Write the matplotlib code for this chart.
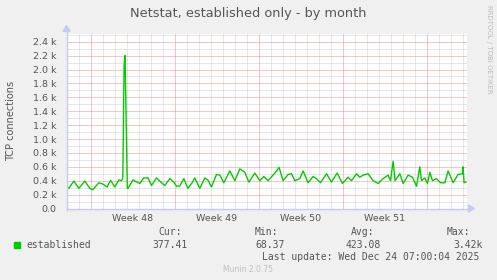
import matplotlib
matplotlib.use("Agg")
import matplotlib.pyplot as plt
from matplotlib.patches import Rectangle, Polygon

# ---- data (days since graph start, TCP connections) ----
days = [0.03, 0.19, 0.61, 1.03, 1.53, 1.94, 2.19, 2.69, 3.05, 3.38, 3.67, 4.03,
        4.36, 4.58, 4.69, 4.80, 4.88, 5.07, 5.13, 5.53, 5.88, 6.11, 6.44, 6.80,
        7.08, 7.50, 7.92, 8.19, 8.61, 8.94, 9.17, 9.44, 9.78, 10.11, 10.47, 10.69,
        11.11, 11.53, 11.78, 12.08, 12.50, 12.78, 13.11, 13.61, 14.03, 14.44, 14.86,
        15.19, 15.28, 15.69, 16.11, 16.44, 16.80, 17.36, 17.72, 18.05, 18.47, 18.75,
        19.03, 19.44, 19.72, 20.13, 20.55, 20.83, 21.17, 21.67, 22.08, 22.55, 23.00,
        23.47, 23.75, 24.17, 24.44, 24.72, 25.13, 25.55, 25.97, 26.38, 26.80, 27.00,
        27.22, 27.38, 27.78, 28.05, 28.47, 28.83, 29.17, 29.44, 29.58, 29.86, 30.08,
        30.28, 30.50, 30.83, 31.17, 31.53, 31.80, 32.22, 32.63, 33.00, 33.05, 33.13,
        33.28]
established = [310, 290, 395, 290, 395, 290, 270, 370, 350, 310, 405, 310,
               410, 400, 430, 2050, 2200, 290, 290, 410, 380, 360, 440, 440,
               330, 440, 370, 330, 430, 380, 320, 325, 430, 290, 370, 440,
               290, 440, 410, 310, 490, 480, 370, 540, 400, 570, 520,
               380, 400, 510, 400, 460, 400, 510, 590, 400, 490, 500,
               400, 430, 540, 370, 460, 430, 370, 500, 380, 510, 360,
               450, 400, 500, 450, 480, 500, 400, 360, 430, 480, 400,
               680, 400, 500, 360, 480, 450, 320, 600, 400, 440, 360,
               520, 400, 430, 370, 370, 540, 370, 490, 500, 600, 370,
               380]

week_labels = ["Week 48", "Week 49", "Week 50", "Week 51"]
week_starts = [2, 9, 16, 23, 30]
y_ticks = [0, 200, 400, 600, 800, 1000, 1200, 1400, 1600, 1800, 2000, 2200, 2400]
y_tick_labels = ["0.0", "0.2 k", "0.4 k", "0.6 k", "0.8 k", "1.0 k", "1.2 k",
                 "1.4 k", "1.6 k", "1.8 k", "2.0 k", "2.2 k", "2.4 k"]
legend_cur, legend_min, legend_avg, legend_max = "377.41", "68.37", "423.08", "3.42k"

# ---- figure ----
W, H = 497, 280
fig = plt.figure(figsize=(W / 100, H / 100), dpi=100, facecolor="#F0F0F0")
L, R, T, B = 66.5, 466.5, 33.5, 208.5
ax = fig.add_axes([L / W, 1 - B / H, (R - L) / W, (B - T) / H])
ax.set_facecolor("white")
XMAX = 33.333
YMAX = 2518
ax.set_xlim(0, XMAX)
ax.set_ylim(0, YMAX)

txt = "#555555"
minor_c = "#D0D0D0"
major_c = "#F28A8A"
dot = (0, (1, 1))
glw = 0.72

for d in range(1, 34):
    if d not in week_starts:
        ax.axvline(d, color=minor_c, lw=glw, ls=dot, zorder=1)
for v in range(100, 2600, 100):
    if v not in y_ticks:
        ax.axhline(v, color=minor_c, lw=glw, ls=dot, zorder=1)
for d in week_starts:
    ax.axvline(d, color=major_c, lw=glw, ls=dot, zorder=2)
for v in y_ticks[1:]:
    ax.axhline(v, color=major_c, lw=glw, ls=dot, zorder=2)

ax.plot(days, established, color="#00CC00", lw=1.0, zorder=5)

for s in ax.spines.values():
    s.set_visible(False)

ax.set_yticks(y_ticks)
ax.set_yticklabels(y_tick_labels)
mid = [(week_starts[i] + week_starts[i + 1]) / 2 for i in range(4)]
ax.set_xticks(mid)
ax.set_xticklabels(week_labels)
ax.tick_params(axis="both", length=0, labelsize=6.8, labelcolor=txt)
ax.tick_params(axis="y", pad=7)
ax.tick_params(axis="x", pad=4)

# axes with arrows (figure pixel coords)
axis_c = "#C8C8F4"
fy = lambda y: 1 - y / H
fx = lambda x: x / W
fig.add_artist(plt.Line2D([fx(L), fx(R + 3)], [fy(B), fy(B)], color=axis_c, lw=1.0))
fig.add_artist(plt.Line2D([fx(L), fx(L)], [fy(B + 1), fy(T - 3)], color=axis_c, lw=1.0))
fig.add_artist(Polygon([[fx(R + 2), fy(B - 3.5)], [fx(R + 2), fy(B + 3.5)], [fx(R + 8), fy(B)]],
                       closed=True, color=axis_c, transform=fig.transFigure))
fig.add_artist(Polygon([[fx(L - 3.5), fy(T - 2)], [fx(L + 3.5), fy(T - 2)], [fx(L), fy(T - 8)]],
                       closed=True, color=axis_c, transform=fig.transFigure))

# titles
fig.text(fx(248), fy(13), "Netstat, established only - by month", ha="center", va="center",
         fontsize=9.3, color=txt)
fig.text(fx(11), fy(120.8), "TCP connections", rotation=90, ha="center", va="center",
         fontsize=7.0, color=txt)
fig.text(fx(489), fy(5), "RRDTOOL / TOBI OETIKER", rotation=-90, ha="center", va="top",
         fontsize=5.0, color="#BBBBBB")

# legend
mono = "DejaVu Sans Mono"
fig.add_artist(Rectangle((fx(14), fy(247.7)), fx(5.5), 5.5 / H, color="#00CC00",
                         transform=fig.transFigure))
fig.text(fx(26), fy(245), "established", fontsize=7, family=mono, color=txt, va="center")
fig.text(fx(158), fy(232), "Cur:", fontsize=7, family=mono, color=txt, va="center")
fig.text(fx(152), fy(245), legend_cur, fontsize=7, family=mono, color=txt, va="center")
fig.text(fx(255), fy(232), "Min:", fontsize=7, family=mono, color=txt, va="center")
fig.text(fx(255), fy(245), legend_min, fontsize=7, family=mono, color=txt, va="center")
fig.text(fx(351), fy(232), "Avg:", fontsize=7, family=mono, color=txt, va="center")
fig.text(fx(345), fy(245), legend_avg, fontsize=7, family=mono, color=txt, va="center")
fig.text(fx(447), fy(232), "Max:", fontsize=7, family=mono, color=txt, va="center")
fig.text(fx(453), fy(245), legend_max, fontsize=7, family=mono, color=txt, va="center")
fig.text(fx(262), fy(257.5), "Last update: Wed Dec 24 07:00:04 2025", fontsize=7, family=mono,
         color=txt, va="center")
fig.text(fx(248), fy(269.5), "Munin 2.0.75", fontsize=5.5, color="#C0C0C0", ha="center", va="center")

fig.savefig("out.png", dpi=100, facecolor=fig.get_facecolor())
